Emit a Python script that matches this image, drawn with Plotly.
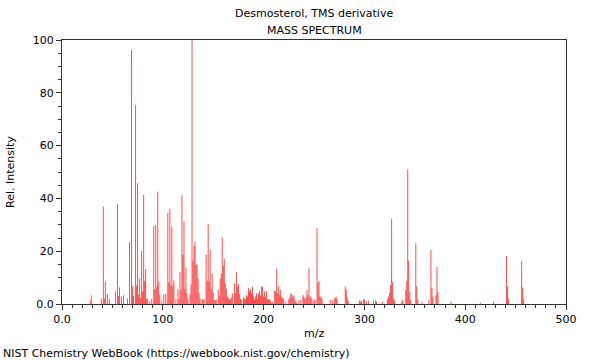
import plotly.graph_objects as go

mz = [28, 29, 39, 41, 42, 43, 45, 47, 53, 55, 56, 57, 59, 61, 65, 67, 69, 70, 71, 73,
      74, 75, 76, 77, 78, 79, 80, 81, 82, 83, 84, 85, 87, 89, 91, 92, 93, 94, 95, 96,
      97, 99, 101, 103, 105, 106, 107, 108, 109, 110, 111, 113, 115, 116, 117, 118, 119, 120, 121, 122,
      123, 124, 125, 127, 128, 129, 130, 131, 132, 133, 134, 135, 136, 137, 139, 140, 141, 143, 144, 145,
      146, 147, 148, 149, 150, 151, 152, 153, 155, 156, 157, 158, 159, 160, 161, 162, 163, 164, 165, 166,
      167, 168, 169, 171, 172, 173, 174, 175, 176, 177, 178, 180, 181, 182, 183, 184, 185, 186, 187, 188,
      189, 190, 191, 192, 193, 194, 195, 196, 197, 198, 199, 200, 201, 202, 203, 204, 205, 206, 207, 208,
      209, 211, 212, 213, 214, 215, 216, 217, 218, 219, 220, 222, 225, 226, 227, 228, 229, 230, 231, 232,
      233, 235, 237, 239, 240, 241, 242, 243, 244, 245, 246, 247, 248, 250, 251, 253, 254, 255, 256, 257,
      258, 266, 268, 270, 271, 272, 273, 281, 282, 283, 284, 295, 296, 297, 299, 300, 302, 304, 309, 311,
      312, 318, 323, 324, 325, 326, 327, 328, 329, 330, 337, 338, 341, 342, 343, 344, 345, 346, 351, 352,
      353, 357, 364, 366, 367, 368, 371, 372, 373, 386, 415, 428, 441, 442, 443, 456, 457, 458]
intensity = [1.3, 3.3, 2.1, 36.9, 2.0, 8.5, 3.7, 1.8, 4.8, 37.9, 3.0, 6.3, 2.8, 3.3, 2.1, 23.5, 96.4, 6.6, 3.0, 75.3,
             7.0, 45.7, 3.4, 9.6, 2.3, 20.2, 4.8, 41.3, 8.8, 13.3, 1.8, 2.0, 1.0, 2.0, 29.5, 5.6, 29.9, 6.6, 42.6, 8.5,
             3.4, 1.0, 3.7, 3.7, 34.6, 8.2, 36.1, 7.0, 29.3, 7.0, 9.0, 1.8, 5.6, 1.8, 12.1, 5.3, 41.2, 18.6, 31.2, 5.6,
             13.8, 4.0, 1.8, 3.7, 7.4, 100.0, 16.4, 22.0, 23.7, 15.0, 14.9, 9.7, 4.3, 2.0, 1.8, 1.5, 2.0, 18.8, 8.7, 30.3,
             8.7, 20.7, 5.7, 11.4, 4.4, 1.5, 1.5, 1.8, 5.3, 3.0, 9.6, 11.4, 25.3, 14.4, 17.0, 7.8, 5.8, 2.8, 2.4, 1.8,
             1.8, 2.5, 4.0, 7.8, 4.0, 12.0, 6.6, 7.6, 3.8, 2.0, 1.8, 2.8, 2.0, 1.8, 3.4, 2.8, 6.0, 4.7, 5.6, 4.0,
             6.6, 2.8, 1.8, 2.8, 4.0, 2.0, 4.0, 5.0, 3.3, 6.6, 6.6, 2.8, 4.7, 2.8, 5.0, 1.8, 1.8, 1.8, 1.3, 0.5,
             0.9, 5.0, 4.7, 13.4, 4.0, 6.8, 3.4, 5.3, 2.8, 2.4, 1.8, 0.9, 1.8, 2.4, 4.0, 3.8, 2.8, 3.3, 1.8, 0.9,
             0.5, 1.5, 1.5, 3.4, 2.8, 2.0, 2.4, 5.3, 3.4, 13.5, 2.8, 2.8, 1.8, 1.3, 1.8, 28.8, 8.0, 8.7, 2.8, 2.8,
             1.8, 1.5, 1.5, 1.8, 2.4, 2.8, 1.8, 6.6, 5.4, 2.4, 1.3, 1.3, 0.9, 1.3, 1.8, 1.8, 0.9, 1.3, 1.3, 1.3,
             0.9, 0.9, 1.8, 2.8, 4.3, 7.2, 32.3, 8.3, 2.0, 1.3, 0.9, 1.5, 5.3, 8.8, 51.0, 16.4, 4.5, 1.5, 23.0, 6.6,
             1.8, 0.9, 1.5, 20.5, 6.2, 2.8, 3.4, 14.1, 4.5, 0.9, 0.5, 0.9, 18.2, 6.6, 2.0, 16.3, 6.3, 1.8]

x_tickvals = [0, 100, 200, 300, 400, 500]
x_ticktext = ["0.0", "100", "200", "300", "400", "500"]
y_tickvals = [0, 20, 40, 60, 80, 100]
y_ticktext = ["0.0", "20", "40", "60", "80", "100"]

title_line1 = "Desmosterol, TMS derivative"
title_line2 = "MASS SPECTRUM"
x_title = "m/z"
y_title = "Rel. Intensity"
credit = "NIST Chemistry WebBook (https://webbook.nist.gov/chemistry)"

FONT = "DejaVu Sans"

# stick spectrum: each peak drawn as a vertical line from 0 to its intensity
xs, ys = [], []
for m, v in zip(mz, intensity):
    xs += [m, m, None]
    ys += [0, v, None]

fig = go.Figure()
fig.add_trace(go.Scatter(x=xs, y=ys, mode="lines", hoverinfo="skip",
                         line=dict(color="rgba(255,0,0,0.7)", width=1)))

axis_common = dict(showline=True, mirror=True, linecolor="#333", linewidth=1,
                   ticks="outside", ticklen=5, tickcolor="#333", showgrid=False,
                   zeroline=False, automargin=False,
                   tickfont=dict(family=FONT, size=11, color="#000"))

fig.update_layout(
    width=600, height=360,
    margin=dict(l=62, r=34, t=40, b=56),
    paper_bgcolor="white", plot_bgcolor="white",
    showlegend=False,
    font=dict(family=FONT, size=11, color="#000"),
    xaxis=dict(range=[0, 500], tickvals=x_tickvals, ticktext=x_ticktext,
               minor=dict(dtick=10, tick0=0, ticks="outside", ticklen=3, tickcolor="#333"),
               **axis_common),
    yaxis=dict(range=[0, 100], tickvals=y_tickvals, ticktext=y_ticktext,
               minor=dict(dtick=5, tick0=0, ticks="outside", ticklen=3, tickcolor="#333"),
               **axis_common),
    annotations=[
        dict(text=title_line1, xref="paper", yref="paper", x=0.5, y=1, yshift=27,
             showarrow=False, xanchor="center", yanchor="middle", font=dict(family=FONT, size=11)),
        dict(text=title_line2, xref="paper", yref="paper", x=0.5, y=1, yshift=10,
             showarrow=False, xanchor="center", yanchor="middle", font=dict(family=FONT, size=11)),
        dict(text=x_title, xref="paper", yref="paper", x=0.5, y=0, yshift=-29,
             showarrow=False, xanchor="center", yanchor="middle", font=dict(family=FONT, size=11)),
        dict(text=y_title, xref="paper", yref="paper", x=0, y=0.5, xshift=-52, textangle=-90,
             showarrow=False, xanchor="center", yanchor="middle", font=dict(family=FONT, size=11)),
        dict(text=credit, xref="paper", yref="paper", x=0, y=0, xshift=-61, yshift=-49,
             showarrow=False, xanchor="left", yanchor="middle", font=dict(family=FONT, size=11)),
    ],
)

fig.write_html("out.html", config={"displayModeBar": False},
               post_script="document.body.style.margin='0';")
